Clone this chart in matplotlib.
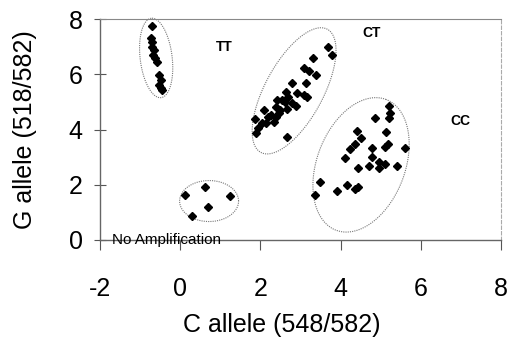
import matplotlib
matplotlib.use('Agg')
import matplotlib.pyplot as plt
import numpy as np

plt.rcParams['font.family'] = ['Liberation Sans', 'DejaVu Sans']
plt.rcParams['axes.unicode_minus'] = False

# ---- data ----
tt_x = [-0.70, -0.73, -0.70, -0.70, -0.65, -0.67, -0.62, -0.57, -0.52, -0.48, -0.52, -0.48, -0.45]
tt_y = [7.73, 7.32, 7.18, 7.00, 6.89, 6.71, 6.59, 6.45, 5.98, 5.79, 5.62, 5.51, 5.44]

ct_x = [3.69, 3.79, 3.32, 3.08, 3.21, 3.38, 2.79, 3.13, 2.64, 2.92, 3.08, 3.17, 2.42, 2.61,
        2.79, 2.88, 2.09, 2.38, 2.50, 2.67, 2.20, 2.38, 2.46, 1.87, 2.13, 2.34, 1.95, 1.90,
        2.67, 2.54, 2.26, 2.70, 2.05]
ct_y = [7.00, 6.68, 6.58, 6.22, 6.10, 5.98, 5.70, 5.70, 5.34, 5.32, 5.26, 5.19, 5.07, 5.01,
        4.95, 4.86, 4.71, 4.81, 4.69, 4.74, 4.46, 4.46, 4.59, 4.38, 4.23, 4.28, 4.05, 3.87,
        3.74, 5.07, 4.53, 5.17, 4.25]

cc_x = [5.20, 4.87, 5.24, 5.20, 4.40, 5.14, 4.50, 4.37, 5.17, 5.10, 4.23, 4.78, 5.60, 4.10,
        4.78, 4.95, 5.10, 4.72, 4.95, 5.41, 4.43, 3.48, 4.16, 3.91, 4.37, 4.44, 3.36]
cc_y = [4.86, 4.41, 4.59, 4.42, 3.93, 3.91, 3.68, 3.47, 3.47, 3.37, 3.29, 3.32, 3.32, 2.96,
        2.99, 2.81, 2.75, 2.68, 2.60, 2.69, 2.60, 2.11, 1.99, 1.79, 1.85, 1.93, 1.63]

na_x = [0.12, 0.62, 1.24, 0.69, 0.29]
na_y = [1.63, 1.91, 1.60, 1.19, 0.88]

x_ticks = [-2, 0, 2, 4, 6, 8]
y_ticks = [0, 2, 4, 6, 8]

# cluster outlines: centre (data), semi-axes (px), angle (deg, on screen)
ellipses = [
    (-0.60, 6.59, 40, 16, 97),
    (2.84, 5.40, 70, 29, 61.6),
    (4.51, 2.72, 70, 44, 69),
    (0.72, 1.41, 29.5, 20.5, 0),
]

labels = [
    (0.89, 7.00, 'TT', 'left'),
    (4.78, 7.50, 'CT', 'center'),
    (6.98, 4.29, 'CC', 'center'),
]

# ---- figure ----
fig = plt.figure(figsize=(5.08, 3.47), dpi=100)
ax = fig.add_axes([0.1969, 0.3084, 0.7893, 0.6368])
ax.set_xlim(-2, 8)
ax.set_ylim(0, 8)
ax.set_xticks(x_ticks)
ax.set_yticks(y_ticks)
ax.tick_params(axis='x', direction='out', length=7, width=0.8, color='#555555',
               pad=20, labelsize=18)
ax.tick_params(axis='y', direction='inout', length=9, width=0.8, color='#555555',
               pad=8, labelsize=18)

for side in ['left', 'bottom']:
    ax.spines[side].set_color('#666666')
    ax.spines[side].set_linewidth(1.0)
ax.spines['top'].set_color('#888888')
ax.spines['top'].set_linewidth(0.8)
ax.spines['right'].set_color('#aaaaaa')
ax.spines['right'].set_linewidth(0.8)
ax.spines['right'].set_linestyle((0, (3, 2)))

ax.set_xlabel('C allele (548/582)', fontsize=18)
ax.xaxis.set_label_coords(0.452, -0.33)
ax.set_ylabel('G allele (518/582)', fontsize=18)
ax.yaxis.set_label_coords(-0.157, 0.5)

for xs, ys in [(tt_x, tt_y), (ct_x, ct_y), (cc_x, cc_y), (na_x, na_y)]:
    ax.plot(xs, ys, 'D', color='black', ms=4, mec='black', clip_on=False, zorder=3)

fig.canvas.draw()
t = np.linspace(0, 2 * np.pi, 400)
for cx, cy, a_px, b_px, ang in ellipses:
    c = ax.transData.transform((cx, cy))
    th = np.radians(ang)
    dx = a_px * np.cos(t) * np.cos(th) - b_px * np.sin(t) * np.sin(th)
    dy = a_px * np.cos(t) * np.sin(th) + b_px * np.sin(t) * np.cos(th)
    pts = ax.transData.inverted().transform(np.column_stack([c[0] + dx, c[1] + dy]))
    ax.plot(pts[:, 0], pts[:, 1], ls=(0, (1, 1)), color='#777777', lw=0.8,
            clip_on=False, zorder=2)

for lx, ly, txt, ha in labels:
    ax.text(lx, ly, txt, fontsize=10, fontweight='bold', ha=ha, va='center')

ax.text(-1.69, 0.0, 'No Amplification', fontsize=11, ha='left', va='center',
        clip_on=False, zorder=4)

fig.savefig('out.png', dpi=100)
